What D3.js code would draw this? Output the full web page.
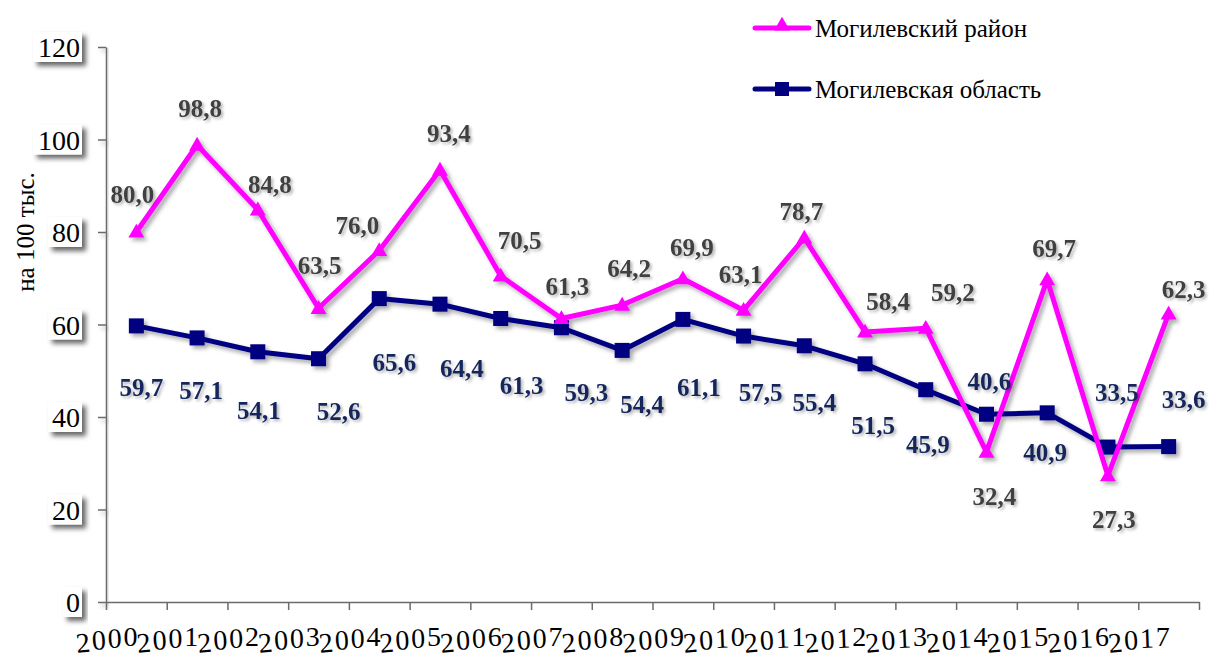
<!DOCTYPE html>
<html>
<head>
<meta charset="utf-8">
<script src="https://cdn.jsdelivr.net/npm/d3@7"></script>
<style>
  body { margin: 0; background: #fff; }
  svg { display: block; }
</style>
</head>
<body>
<div id="chart"></div>
<script>
// data
var years = ["2000", "2001", "2002", "2003", "2004", "2005", "2006", "2007", "2008",
  "2009", "2010", "2011", "2012", "2013", "2014", "2015", "2016", "2017"];
var raion = [80.0, 98.8, 84.8, 63.5, 76.0, 93.4, 70.5, 61.3, 64.2, 69.9, 63.1, 78.7,
  58.4, 59.2, 32.4, 69.7, 27.3, 62.3];
var oblast = [59.7, 57.1, 54.1, 52.6, 65.6, 64.4, 61.3, 59.3, 54.4, 61.1, 57.5, 55.4,
  51.5, 45.9, 40.6, 40.9, 33.5, 33.6];
var yTicks = [0, 20, 40, 60, 80, 100, 120];
var seriesNames = ["Могилевский район", "Могилевская область"];
var yTitle = "на 100 тыс.";

// label placement (px offset from the point to the label centre)
var raionOff = [[-4, -38], [3, -37], [12, -26], [1, -43], [-22, -26], [9, -37], [19, -36],
  [6, -32], [7, -37], [9, -32], [-3, -36], [-3, -27], [23, -31], [27, -36], [8, 44],
  [7, -32], [6, 43], [15, -25]];
var oblastOff = [[5, 61], [4, 52], [1, 58], [20, 52], [15, 63], [22, 64], [21, 67],
  [25, 64], [20, 54], [16, 68], [17, 56], [10, 56], [8, 61], [2, 54], [3, -33],
  [-2, 39], [9, -55], [15, -48]];

var width = 1209;
var height = 659;
var plotLeft = 106, plotRight = 1199, plotTop = 47, plotBottom = 602;
var serif = "Times New Roman, Liberation Serif, Tinos, DejaVu Serif, Noto Serif, FreeSerif, serif";

var svg = d3.select("#chart").append("svg")
  .attr("width", width)
  .attr("height", height)
  .style("font-family", serif);

var defs = svg.append("defs");
var f1 = defs.append("filter").attr("id", "lineShadow")
  .attr("x", "-10%").attr("y", "-10%").attr("width", "130%").attr("height", "130%");
f1.append("feDropShadow").attr("dx", 3).attr("dy", 3).attr("stdDeviation", 2)
  .attr("flood-color", "#000").attr("flood-opacity", 0.35);
var f2 = defs.append("filter").attr("id", "boxShadow")
  .attr("x", "-20%").attr("y", "-20%").attr("width", "150%").attr("height", "160%");
f2.append("feDropShadow").attr("dx", 4).attr("dy", 4).attr("stdDeviation", 2.5)
  .attr("flood-color", "#000").attr("flood-opacity", 0.6);
var f3 = defs.append("filter").attr("id", "textShadow")
  .attr("x", "-20%").attr("y", "-20%").attr("width", "140%").attr("height", "150%");
f3.append("feDropShadow").attr("dx", 2).attr("dy", 2).attr("stdDeviation", 1.5)
  .attr("flood-color", "#000").attr("flood-opacity", 0.3);

var xScale = d3.scaleBand().domain(years).range([plotLeft, plotRight]).padding(0);
var xEdge = d3.scaleLinear().domain([0, years.length]).range([plotLeft, plotRight]);
var yScale = d3.scaleLinear().domain([0, 120]).range([plotBottom, plotTop]);

function px(d, i) { return xScale(years[i]) + xScale.bandwidth() / 2; }
function fmt(v) { return v.toFixed(1).replace(".", ","); }

// axes
var yAxis = d3.axisLeft(yScale).tickValues(yTicks).tickSize(8).tickSizeOuter(0).tickFormat("");
var xAxis = d3.axisBottom(xEdge).tickValues(d3.range(0, years.length + 1))
  .tickSize(8).tickSizeOuter(0).tickFormat("");

svg.append("g").attr("class", "yAxis")
  .attr("transform", "translate(" + plotLeft + ",0)")
  .attr("filter", "url(#lineShadow)")
  .call(yAxis);
svg.append("g").attr("class", "xAxis")
  .attr("transform", "translate(0," + plotBottom + ")")
  .call(xAxis);
svg.selectAll(".yAxis path, .yAxis line, .xAxis path, .xAxis line")
  .attr("stroke", "#6b6b6b").attr("stroke-width", 1.5);

// y tick labels in white boxes with shadow
var yLab = svg.append("g").selectAll("g").data(yTicks).enter().append("g")
  .attr("transform", function(d) { return "translate(82," + yScale(d) + ")"; });
yLab.append("rect")
  .attr("x", function(d) { return -(String(d).length * 15 + 4); })
  .attr("y", -15)
  .attr("width", function(d) { return String(d).length * 15 + 4; })
  .attr("height", 30)
  .attr("fill", "#fff")
  .attr("filter", "url(#boxShadow)");
yLab.append("text")
  .attr("x", -2)
  .attr("y", 10)
  .attr("text-anchor", "end")
  .style("font-family", serif)
  .attr("font-size", 28)
  .attr("fill", "#000")
  .text(function(d) { return d; });

// x labels, slightly arched like the original
var archY = [653, 650, 648, 646];
var archR = [-6, -4, -2, 0];
var xLab = svg.append("g").selectAll("text").data(years).enter().append("text")
  .style("font-family", serif)
  .attr("font-size", 28)
  .attr("fill", "#000");
xLab.each(function(d, i) {
  var t = d3.select(this);
  var cx = xEdge(i) + 2;
  d.split("").forEach(function(c, k) {
    t.append("tspan")
      .attr("x", cx - 31 + k * 15.5)
      .attr("y", archY[k])
      .attr("rotate", archR[k])
      .text(c);
  });
});

// y title
svg.append("text")
  .attr("transform", "translate(34,232) rotate(-90)")
  .attr("text-anchor", "middle")
  .style("font-family", serif)
  .attr("font-size", 25)
  .attr("fill", "#000")
  .text(yTitle);

// lines
var line = d3.line()
  .x(function(d, i) { return px(d, i); })
  .y(function(d) { return yScale(d); });

var gLines = svg.append("g").attr("filter", "url(#lineShadow)");

gLines.append("path").datum(oblast)
  .attr("d", line)
  .attr("fill", "none")
  .attr("stroke", "#000080")
  .attr("stroke-width", 5)
  .attr("stroke-linejoin", "round");
gLines.selectAll("rect.sq").data(oblast).enter().append("rect")
  .attr("class", "sq")
  .attr("x", function(d, i) { return px(d, i) - 7.5; })
  .attr("y", function(d) { return yScale(d) - 7.5; })
  .attr("width", 15).attr("height", 15)
  .attr("fill", "#000080");

gLines.append("path").datum(raion)
  .attr("d", line)
  .attr("fill", "none")
  .attr("stroke", "#FF00FF")
  .attr("stroke-width", 5)
  .attr("stroke-linejoin", "round");
var tri = d3.symbol().type(d3.symbolTriangle).size(110);
gLines.selectAll("path.tri").data(raion).enter().append("path")
  .attr("class", "tri")
  .attr("d", tri)
  .attr("transform", function(d, i) { return "translate(" + px(d, i) + "," + (yScale(d) + 1) + ")"; })
  .attr("fill", "#FF00FF");

// data labels
var gLab = svg.append("g").attr("filter", "url(#textShadow)")
  .style("font-family", serif)
  .attr("font-weight", "bold").attr("font-size", 25).attr("text-anchor", "middle");
gLab.selectAll("text.r").data(raion).enter().append("text")
  .attr("class", "r")
  .attr("x", function(d, i) { return px(d, i) + raionOff[i][0]; })
  .attr("y", function(d, i) { return yScale(d) + raionOff[i][1] + 9; })
  .attr("fill", "#404040")
  .text(fmt);
gLab.selectAll("text.o").data(oblast).enter().append("text")
  .attr("class", "o")
  .attr("x", function(d, i) { return px(d, i) + oblastOff[i][0]; })
  .attr("y", function(d, i) { return yScale(d) + oblastOff[i][1] + 9; })
  .attr("fill", "#14285c")
  .text(fmt);

// legend
var legend = svg.append("g").style("font-family", serif);
var legRows = [
  { name: seriesNames[0], color: "#FF00FF", y: 28, mark: "tri" },
  { name: seriesNames[1], color: "#000080", y: 89, mark: "sq" }
];
legRows.forEach(function(r) {
  legend.append("line")
    .attr("x1", 755).attr("x2", 809)
    .attr("y1", r.y).attr("y2", r.y)
    .attr("stroke", r.color).attr("stroke-width", 5)
    .attr("stroke-linecap", "round");
  if (r.mark === "tri") {
    legend.append("path").attr("d", tri)
      .attr("transform", "translate(782," + (r.y - 2) + ")")
      .attr("fill", r.color);
  } else {
    legend.append("rect")
      .attr("x", 775).attr("y", r.y - 7).attr("width", 14).attr("height", 14)
      .attr("fill", r.color);
  }
  legend.append("text")
    .attr("x", 815).attr("y", r.y + 9)
    .attr("font-size", 25)
    .attr("fill", "#000")
    .text(r.name);
});
</script>
</body>
</html>
